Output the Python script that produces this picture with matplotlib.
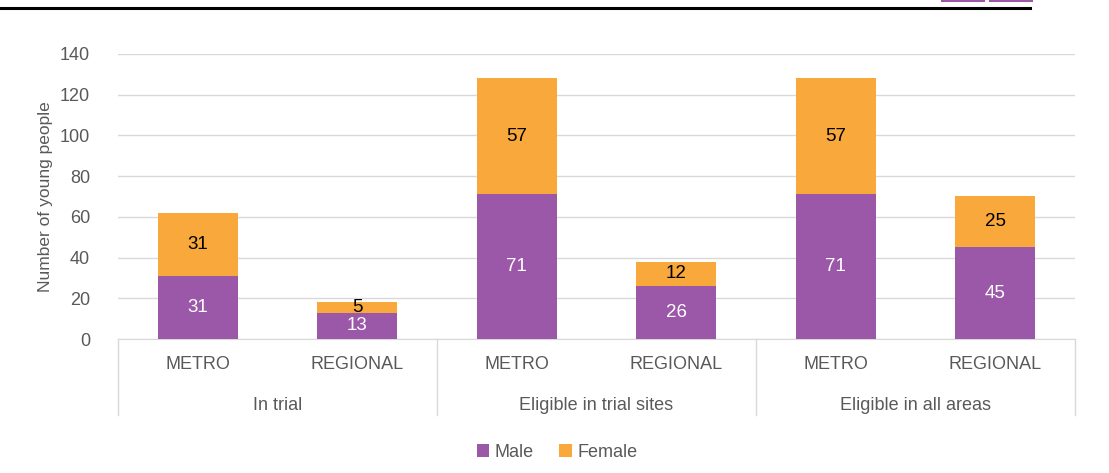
import matplotlib.pyplot as plt
from matplotlib.patches import Rectangle
from matplotlib.lines import Line2D

# --- Data ---
groups = ["In trial", "Eligible in trial sites", "Eligible in all areas"]
areas = ["METRO", "REGIONAL", "METRO", "REGIONAL", "METRO", "REGIONAL"]
male = [31, 13, 71, 26, 71, 45]
female = [31, 5, 57, 12, 57, 25]

MALE_C = "#9B57A8"
FEMALE_C = "#F9A93B"
TXT = "#595959"

plt.rcParams["font.family"] = ["Liberation Sans", "DejaVu Sans"]

fig = plt.figure(figsize=(11.09, 4.73), dpi=100)
ax = fig.add_axes([118 / 1109, 1 - 339 / 473, (1075 - 118) / 1109, (339 - 54) / 473])

x = [i + 0.5 for i in range(len(areas))]
ax.bar(x, male, width=0.5, color=MALE_C, label="Male", zorder=3)
ax.bar(x, female, width=0.5, bottom=male, color=FEMALE_C, label="Female", zorder=3)

# --- Data labels ---
for xi, m, f in zip(x, male, female):
    ax.text(xi, m / 2, str(m), ha="center", va="center", color="white", fontsize=13.5, zorder=4)
    ax.text(xi, m + f / 2, str(f), ha="center", va="center", color="black", fontsize=13.5, zorder=4)

# --- Axes styling ---
ax.set_xlim(0, 6)
ax.set_ylim(0, 140)
ax.set_yticks(range(0, 141, 20))
ax.yaxis.grid(True, color="#D9D9D9", linewidth=1)
ax.set_axisbelow(True)
for s in ["top", "right", "left"]:
    ax.spines[s].set_visible(False)
ax.spines["bottom"].set_color("#D9D9D9")
ax.tick_params(axis="y", length=0, labelsize=13, labelcolor=TXT, pad=20)
ax.tick_params(axis="x", length=0, labelbottom=False)
ax.set_ylabel("Number of young people", fontsize=12.5, color=TXT, labelpad=5)

# --- Two-level category axis ---
for xi, a in zip(x, areas):
    ax.text(xi, -0.09, a, transform=ax.get_xaxis_transform(), ha="center", va="center",
            fontsize=13, color=TXT)
for gi, g in enumerate(groups):
    ax.text(2 * gi + 1, -0.235, g, transform=ax.get_xaxis_transform(), ha="center",
            va="center", fontsize=13, color=TXT)
for xs in [0, 2, 4, 6]:
    ax.add_line(Line2D([xs, xs], [0, -0.267], transform=ax.get_xaxis_transform(),
                       color="#D9D9D9", linewidth=1, clip_on=False))

# --- Legend ---
fig.legend(loc="center", bbox_to_anchor=(557 / 1109, 1 - 452 / 473), ncol=2, frameon=False,
           fontsize=13, labelcolor=TXT, handlelength=0.7, handleheight=0.7,
           handletextpad=0.3, columnspacing=1.4)

# --- Page decoration at the top ---
fig.add_artist(Line2D([0, 1030 / 1109], [1 - 8 / 473] * 2, transform=fig.transFigure,
                      color="black", linewidth=2.2))
for x0 in [941, 989]:
    fig.add_artist(Rectangle((x0 / 1109, 1 - 2 / 473), 44 / 1109, 2 / 473,
                             transform=fig.transFigure, color=MALE_C, linewidth=0))

fig.savefig("out.png", dpi=100)
